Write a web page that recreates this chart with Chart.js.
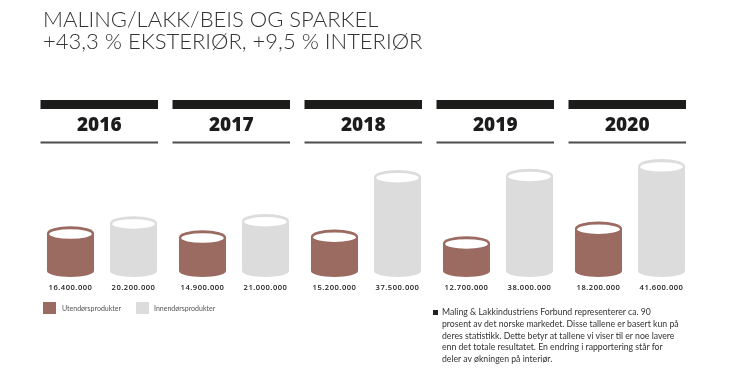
<!DOCTYPE html>
<html>
<head>
<meta charset="utf-8">
<script src="https://cdn.jsdelivr.net/npm/chart.js@4/dist/chart.umd.min.js"></script>
<style>
  body { margin: 0; background: #fff; }
  #wrap { position: relative; width: 750px; height: 379px; overflow: hidden; }
  #chart { position: absolute; left: 0; top: 0; }
  #title {
    position: absolute; left: 43px; top: 8px;
    font-family: Lato, sans-serif; font-weight: 300; font-size: 22px;
    line-height: 21.7px; color: #333; white-space: nowrap;
  }
  #legend { position: absolute; left: 43px; top: 302px; font-family: Lato, sans-serif; font-size: 7px; color: #555; }
  #legend span.item { position: absolute; top: 0; white-space: nowrap; }
  #legend span.box { position: absolute; top: 0; width: 13px; height: 12px; }
  #legend span.txt { position: absolute; top: 2px; }
  #note {
    position: absolute; left: 442px; top: 306px;
    font-family: Lato, sans-serif; font-size: 8.7px; line-height: 11.8px; color: #333; white-space: nowrap;
  }
  #note:before {
    content: ""; position: absolute; left: -9.5px; top: 3.5px; width: 5px; height: 5px; background: #222;
  }
</style>
</head>
<body>
<div id="wrap">
  <canvas id="chart" width="750" height="379"></canvas>
  <div id="title">MALING/LAKK/BEIS OG SPARKEL<br>+43,3 % EKSTERIØR, +9,5 % INTERIØR</div>
  <div id="legend"></div>
  <div id="note">Maling &amp; Lakkindustriens Forbund representerer ca. 90<br>prosent av det norske markedet. Disse tallene er basert kun på<br>deres statistikk. Dette betyr at tallene vi viser til er noe lavere<br>enn det totale resultatet. En endring i rapportering står for<br>deler av økningen på interiør.</div>
</div>
<script>
const years = ['2016', '2017', '2018', '2019', '2020'];
const seriesNames = ['Utendørsprodukter', 'Innendørsprodukter'];
const utendors = [16400000, 14900000, 15200000, 12700000, 18200000];
const innendors = [20200000, 21000000, 37500000, 38000000, 41600000];
const colors = ['#9b6a61', '#dcdcdd'];

function fmt(n) {
    return String(n).replace(/\B(?=(\d{3})+(?!\d))/g, '.');
}

// cylinders drawn on the bar elements' positions
const cylinders = {
    id: 'cylinders',
    afterDatasetsDraw(chart) {
        const ctx = chart.ctx;
        chart.data.datasets.forEach((ds, di) => {
            const meta = chart.getDatasetMeta(di);
            meta.data.forEach((bar, i) => {
                const p = bar.getProps(['x', 'y', 'base', 'width'], true);
                const rx = p.width / 2, ryT = 7, ryB = 6;
                const col = ds.cylColor;
                ctx.save();
                ctx.fillStyle = col;
                ctx.beginPath();
                ctx.moveTo(p.x - rx, p.y);
                ctx.lineTo(p.x - rx, p.base - ryB);
                ctx.ellipse(p.x, p.base - ryB, rx, ryB, 0, Math.PI, 0, true);
                ctx.lineTo(p.x + rx, p.y);
                ctx.closePath();
                ctx.fill();
                ctx.beginPath();
                ctx.ellipse(p.x, p.y, rx, ryT, 0, 0, Math.PI * 2);
                ctx.fill();
                ctx.fillStyle = '#fff';
                ctx.beginPath();
                ctx.ellipse(p.x, p.y + 0.8, rx - 2.2, ryT - 2.3, 0, 0, Math.PI * 2);
                ctx.fill();
                // value under the cylinder
                ctx.fillStyle = '#222';
                ctx.font = '600 7.6px "Open Sans", sans-serif';
                ctx.letterSpacing = '0.5px';
                ctx.textAlign = 'center';
                ctx.textBaseline = 'middle';
                ctx.fillText(fmt(ds.data[i]), p.x, p.base + 10.5);
                ctx.restore();
            });
        });
    },
    afterDraw(chart) {
        const ctx = chart.ctx;
        const xs = chart.scales.x;
        ctx.save();
        years.forEach((yr, i) => {
            const c = xs.getPixelForValue(i);
            const l = c - 61.5, r = c + 56;
            ctx.fillStyle = '#1c1c1a';
            ctx.fillRect(l, 100, r - l, 9);
            ctx.fillStyle = '#4d4d4d';
            ctx.fillRect(l, 141.5, r - l, 2);
            ctx.fillStyle = '#1c1c1c';
            ctx.font = '800 19px "Open Sans", sans-serif';
            ctx.textAlign = 'center';
            ctx.textBaseline = 'middle';
            ctx.fillText(yr, (l + r) / 2, 126);
        });
        ctx.restore();
    }
};

new Chart(document.getElementById('chart'), {
    type: 'bar',
    data: {
        labels: years,
        datasets: [
            { label: seriesNames[0], data: utendors, cylColor: colors[0], backgroundColor: 'rgba(0,0,0,0)' },
            { label: seriesNames[1], data: innendors, cylColor: colors[1], backgroundColor: 'rgba(0,0,0,0)' }
        ]
    },
    options: {
        responsive: false,
        animation: false,
        categoryPercentage: 0.955,
        barPercentage: 0.746,
        layout: { padding: { left: 36, right: 54, top: 149, bottom: 102 } },
        scales: {
            x: { display: false },
            y: { display: false, min: 0, max: 48000000 }
        },
        plugins: { legend: { display: false }, tooltip: { enabled: false } }
    },
    plugins: [cylinders]
});

// legend from the series names / colours
const legend = document.getElementById('legend');
const offsets = [0, 93];
seriesNames.forEach((name, i) => {
    const item = document.createElement('span');
    item.className = 'item';
    item.style.left = offsets[i] + 'px';
    item.innerHTML = '<span class="box" style="left:0;background:' + colors[i] + '"></span><span class="txt" style="left:' + (i ? 18 : 19) + 'px">' + name + '</span>';
    legend.appendChild(item);
});
</script>
</body>
</html>
